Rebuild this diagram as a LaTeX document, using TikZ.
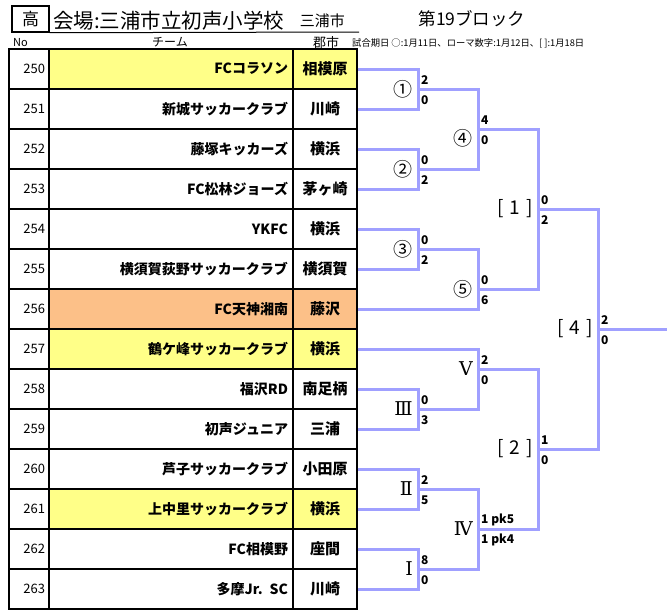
\documentclass[tikz,border=0pt]{standalone}
\usepackage{fontspec}
\setmainfont{Noto Sans CJK JP}
\newfontfamily\romanfont{DejaVu Serif}
\usetikzlibrary{positioning}
\definecolor{hi}{HTML}{FFFF88}
\definecolor{seed}{HTML}{FCC088}
\definecolor{bracketblue}{HTML}{A0A0FF}
\tikzset{
  cell/.style={draw, line width=1.2pt, minimum height=40pt, inner ysep=0pt},
  bracket/.style={draw=bracketblue, line width=3pt},
  score/.style={font=\fontsize{12}{12}\selectfont\bfseries, inner sep=0pt, anchor=west},
  mlabel/.style={font=\fontsize{19}{19}\selectfont, inner sep=0pt, anchor=east},
}
\begin{document}
\begin{tikzpicture}[x=1pt,y=-1pt]
	\useasboundingbox (0,0) rectangle (667,613);
	% Title
	\node[draw, line width=1.5pt, minimum width=37pt, minimum height=26pt, font=\fontsize{17}{17}\selectfont] (grade) at (30.5,19) {高};
	\node[anchor=west, inner sep=0pt, font=\fontsize{20.5}{20.5}\selectfont] (venue) at (53,20.5) {会場:三浦市立初声小学校};
	\node[right=15pt of venue, inner sep=0pt, font=\fontsize{15}{15}\selectfont] (town) {三浦市};
	\draw[line width=1pt] (grade.south east) -- (359,32);
	\node[font=\fontsize{17.5}{17.5}\selectfont] (block) at (472,18.5) {第19ブロック};
	% Column heads and legend
	\node[font=\fontsize{11}{11}\selectfont] (headno) at (20.5,42.5) {No};
	\node[font=\fontsize{12}{12}\selectfont] (headteam) at (170,42.5) {チーム};
	\node[font=\fontsize{13}{13}\selectfont] (headcity) at (326,42.5) {郡市};
	\node[anchor=west, inner sep=0pt, font=\fontsize{9.3}{9.3}\selectfont] (legend) at (352,43) {試合期日\ ○:1月11日、ローマ数字:1月12日、[ ]:1月18日};
	% Table of teams
	\foreach \n/\team/\city/\c in {250/FCコラソン/相模原/hi, 251/新城サッカークラブ/川崎/white,
		252/藤塚キッカーズ/横浜/white, 253/FC松林ジョーズ/茅ヶ崎/white,
		254/YKFC/横浜/white, 255/横須賀荻野サッカークラブ/横須賀/white,
		256/FC天神湘南/藤沢/seed, 257/鶴ケ峰サッカークラブ/横浜/hi,
		258/福沢RD/南足柄/white, 259/初声ジュニア/三浦/white,
		260/芦子サッカークラブ/小田原/white, 261/上中里サッカークラブ/横浜/hi,
		262/FC相模野/座間/white, 263/多摩Jr. SC/川崎/white}{
		\pgfmathtruncatemacro\y{69+40*(\n-250)}
		\node[cell, text width=32pt, inner xsep=4pt, align=right, font=\fontsize{13}{13}\selectfont] (no\n) at (29,\y) {\n};
		\node[cell, fill=\c, text width=234pt, inner xsep=5pt, align=right, font=\fontsize{14}{14}\selectfont\bfseries] (team\n) at (171,\y) {\team};
		\node[cell, fill=\c, minimum width=64pt, inner xsep=0pt, font=\fontsize{15}{15}\selectfont\bfseries] (city\n) at (325,\y) {\city};
	}
	% Match points
	\coordinate (m1) at (418,89);
	\coordinate (m2) at (418,169);
	\coordinate (m3) at (418,249);
	\coordinate (m4) at (478,129);
	\coordinate (m5) at (478,289);
	\coordinate (r3) at (418,409);
	\coordinate (r2) at (418,489);
	\coordinate (r1) at (418,569);
	\coordinate (r5) at (478,369);
	\coordinate (r4) at (478,529);
	\coordinate (k1) at (538,209);
	\coordinate (k2) at (538,449);
	\coordinate (k4) at (598,329);
	\coordinate (champ) at (667,329);
	% Bracket lines
	\draw[bracket] (city250.east) -| (m1) |- (city251.east);
	\draw[bracket] (city252.east) -| (m2) |- (city253.east);
	\draw[bracket] (city254.east) -| (m3) |- (city255.east);
	\draw[bracket] (m1) -| (m4) |- (m2);
	\draw[bracket] (m3) -| (m5) |- (city256.east);
	\draw[bracket] (city258.east) -| (r3) |- (city259.east);
	\draw[bracket] (city260.east) -| (r2) |- (city261.east);
	\draw[bracket] (city262.east) -| (r1) |- (city263.east);
	\draw[bracket] (city257.east) -| (r5) |- (r3);
	\draw[bracket] (r2) -| (r4) |- (r1);
	\draw[bracket] (m4) -| (k1) |- (m5);
	\draw[bracket] (r5) -| (k2) |- (r4);
	\draw[bracket] (k1) -| (k4) |- (k2);
	\draw[bracket] (k4) -- (champ);
	% Match names and scores
	\foreach \m/\lab/\a/\b/\dy in {m1/①/2/0/0, m2/②/0/2/0, m3/③/0/2/0, m4/④/4/0/-9, m5/⑤/0/6/0,
		r1/{\romanfont Ⅰ}/8/0/0, r2/{\romanfont Ⅱ}/2/5/0, r3/{\romanfont Ⅲ}/0/3/0,
		r4/{\romanfont Ⅳ}/1 pk5/1 pk4/0, r5/{\romanfont Ⅴ}/2/0/0,
		k1/{[\hspace{6pt}1\hspace{6pt}]}/0/2/0, k2/{[\hspace{6pt}2\hspace{6pt}]}/1/0/0,
		k4/{[\hspace{6pt}4\hspace{6pt}]}/2/0/0}{
		\node[mlabel, xshift=-5pt, yshift=\dy pt] (\m name) at (\m) {\lab};
		\node[score, xshift=3pt, yshift=9pt] (\m top) at (\m) {\a};
		\node[score, xshift=3pt, yshift=-11pt] (\m bottom) at (\m) {\b};
	}
\end{tikzpicture}
\end{document}
